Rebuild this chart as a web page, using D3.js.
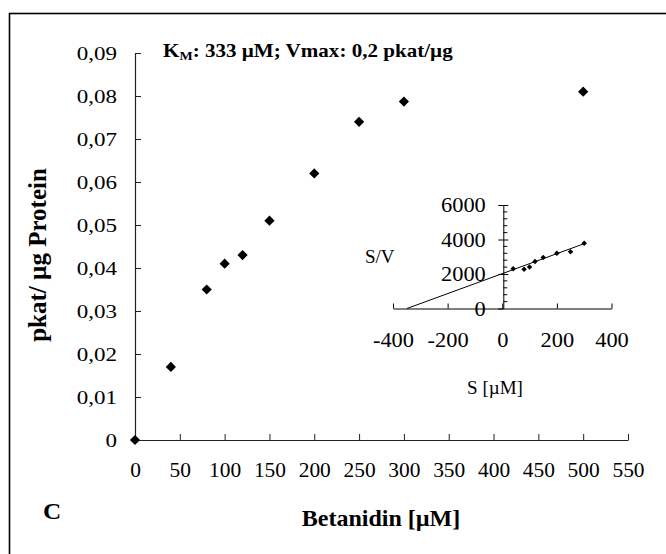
<!DOCTYPE html>
<html lang="en">
  <head>
    <meta charset="UTF-8" />
    <title>Betanidin kinetics</title>
    <script src="https://d3js.org/d3.v7.min.js"></script>
    <style>
      body { margin: 0; background: #fff; }
      text { font-family: "Liberation Serif", "Times New Roman", serif; fill: #000; }
    </style>
  </head>

  <body>
    <svg id="chart" width="666" height="554"></svg>
    <script>
      // Michaelis-Menten data
      const substrate = [0, 40, 80, 100, 120, 150, 200, 250, 300, 500];
      const activity = [0, 0.017, 0.035, 0.041, 0.043, 0.051, 0.062, 0.074, 0.0787, 0.081];
      const xTicks = [0, 50, 100, 150, 200, 250, 300, 350, 400, 450, 500, 550];
      const yTicks = [0, 0.01, 0.02, 0.03, 0.04, 0.05, 0.06, 0.07, 0.08, 0.09];

      // Hanes-Woolf inset
      const hwS = [40, 80, 100, 120, 150, 200, 250, 300];
      const hwSV = [2300, 2280, 2400, 2720, 2950, 3200, 3290, 3780];
      const fitS = [-349, 302];
      const fitSV = [0, 3770];
      const insetXTicks = [-400, -200, 0, 200, 400];
      const insetYTicks = [0, 2000, 4000, 6000];

      const titleMain = "K";
      const titleSub = "M";
      const titleRest = ": 333 µM; Vmax: 0,2 pkat/µg";
      const xTitle = "Betanidin [µM]";
      const yTitle = "pkat/ µg Protein";
      const panel = "C";

      const serif = '"Liberation Serif", "Times New Roman", serif';
      const svg = d3.select("#chart");

      // frame (runs off the right/bottom edge in the original)
      svg.append("rect")
        .attr("x", 9.5).attr("y", 13.5)
        .attr("width", 720).attr("height", 620)
        .attr("fill", "none").attr("stroke", "#000").attr("stroke-width", 1.6);

      const x = d3.scaleLinear().domain([0, 550]).range([135, 628]);
      const y = d3.scaleLinear().domain([0, 0.09]).range([440, 53]);
      const fmt = (d) => (d === 0 ? "0" : d3.format(".2f")(d).replace(".", ","));

      // y axis
      const sxY = 1.18;
      const gy = svg.append("g")
        .attr("transform", "translate(135,0)")
        .attr("font-family", serif)
        .style("color", "#222")
        .call(d3.axisLeft(y).tickValues(yTicks).tickSizeInner(-6).tickSizeOuter(0).tickFormat(fmt));
      gy.selectAll("text")
        .attr("x", -18 / sxY).attr("dy", null).attr("y", 6.5)
        .attr("transform", `scale(${sxY},1)`)
        .style("font-size", "19.5px").attr("text-anchor", "end");

      // x axis
      const sxX = 1.02;
      const gx = svg.append("g")
        .attr("transform", "translate(0,440)")
        .attr("font-family", serif)
        .style("color", "#222")
        .call(d3.axisBottom(x).tickValues(xTicks).tickSizeInner(-6).tickSizeOuter(0));
      gx.selectAll("text")
        .attr("y", 37.5).attr("dy", null).attr("x", 0)
        .attr("transform", `scale(${sxX},1)`)
        .style("font-size", "21px");
      svg.selectAll(".domain").attr("stroke-width", 1.2);

      // points
      const pts = substrate.map((s, i) => [s, activity[i]]);
      svg.append("g").selectAll("path")
        .data(pts)
        .join("path")
        .attr("d", d3.symbol(d3.symbolSquare, 52))
        .attr("transform", (d) => `translate(${x(d[0])},${y(d[1])}) rotate(45)`)
        .attr("fill", "#000");

      // title
      const t = svg.append("text")
        .attr("transform", "translate(163,57) scale(1.17,1)")
        .style("font-size", "18px").style("font-weight", "bold");
      t.append("tspan").text(titleMain);
      t.append("tspan").attr("dy", 3).style("font-size", "12px").text(titleSub);
      t.append("tspan").attr("dy", -3).text(titleRest);

      // axis titles
      svg.append("text")
        .attr("transform", "translate(46,255) rotate(-90)")
        .attr("text-anchor", "middle")
        .style("font-size", "25px").style("font-weight", "bold")
        .text(yTitle);

      svg.append("text")
        .attr("transform", "translate(381,526) scale(1.0,1)")
        .attr("text-anchor", "middle")
        .style("font-size", "24px").style("font-weight", "bold")
        .text(xTitle);

      svg.append("text")
        .attr("transform", "translate(43,519) scale(1.05,1)")
        .style("font-size", "24px").style("font-weight", "bold")
        .text(panel);

      // ---- inset ----
      const xi = d3.scaleLinear().domain([-400, 400]).range([393, 611.5]);
      const yi = d3.scaleLinear().domain([0, 6000]).range([308.5, 205]);
      const sxI = 1.12;

      const gxi = svg.append("g")
        .attr("transform", "translate(0,308.5)")
        .attr("font-family", serif)
        .style("color", "#000")
        .call(d3.axisBottom(xi).tickValues(insetXTicks).tickSizeInner(-5).tickSizeOuter(0)
          .tickFormat((d) => String(d)));
      gxi.selectAll("text")
        .attr("y", 39).attr("dy", null).attr("x", 0)
        .attr("transform", `scale(${sxI},1)`)
        .style("font-size", "20px");
      gxi.select(".domain").attr("stroke-width", 1);

      const gyi = svg.append("g")
        .attr("transform", "translate(503.3,0)")
        .attr("font-family", serif)
        .style("color", "#000")
        .call(d3.axisLeft(yi).tickValues(insetYTicks).tickSizeInner(5).tickSizeOuter(0)
          .tickFormat((d) => String(d)));
      gyi.selectAll("text")
        .attr("x", -17.5 / sxI).attr("dy", null).attr("y", 6.5)
        .attr("transform", `scale(${sxI},1)`)
        .style("font-size", "20px");
      gyi.select(".domain").attr("stroke-width", 1);
      // right half of the major ticks
      gyi.selectAll(".tick").filter((d) => d > 0)
        .append("line").attr("x2", 5).attr("stroke", "currentColor");
      // minor ticks
      gyi.append("g").selectAll("line")
        .data(d3.range(400, 6000, 400).filter((v) => v % 2000 !== 0))
        .join("line")
        .attr("x1", 0).attr("x2", 4)
        .attr("y1", (d) => yi(d)).attr("y2", (d) => yi(d))
        .attr("stroke", "#000");

      // fitted line
      svg.append("line")
        .attr("x1", xi(fitS[0])).attr("y1", yi(fitSV[0]))
        .attr("x2", xi(fitS[1])).attr("y2", yi(fitSV[1]))
        .attr("stroke", "#000").attr("stroke-width", 1);

      svg.append("g").selectAll("path")
        .data(hwS.map((s, i) => [s, hwSV[i]]))
        .join("path")
        .attr("d", d3.symbol(d3.symbolSquare, 15))
        .attr("transform", (d) => `translate(${xi(d[0])},${yi(d[1])}) rotate(45)`)
        .attr("fill", "#000");

      svg.append("text")
        .attr("transform", "translate(365,263) scale(1.0,1)")
        .style("font-size", "19px")
        .text("S/V");

      svg.append("text")
        .attr("transform", "translate(495,394)")
        .attr("text-anchor", "middle")
        .style("font-size", "19px")
        .text("S [µM]");
    </script>
  </body>
</html>
